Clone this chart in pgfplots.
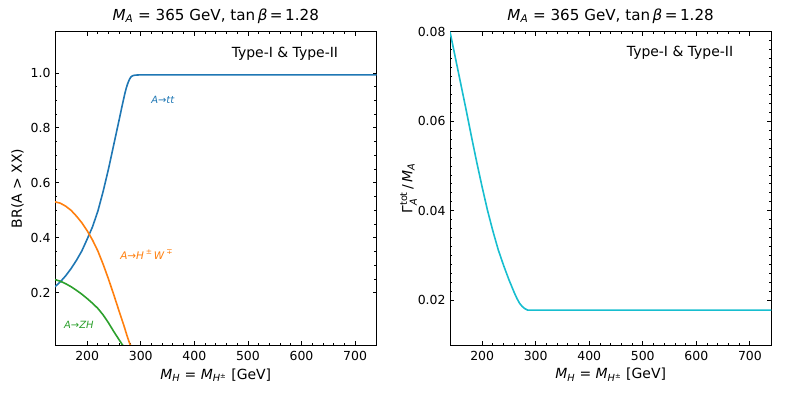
\documentclass[border=0pt]{standalone}
\usepackage{pgfplots}
\pgfplotsset{compat=1.18}
\usepackage{amsmath}
\usepackage{fontspec}
\setmainfont{DejaVu Sans}

\definecolor{tabblue}{HTML}{1F77B4}
\definecolor{taborange}{HTML}{FF7F0E}
\definecolor{tabgreen}{HTML}{2CA02C}
\definecolor{tabcyan}{HTML}{17BECF}

\newcommand{\MA}{\textit{M}\textsubscript{\textit{A}}}
\newcommand{\sups}[1]{\raisebox{0.85ex}{\fontsize{7.5}{8}\selectfont #1}}

\pgfplotsset{
  panel/.style={
    scale only axis, width=321.5bp, height=313.3bp, anchor=south west,
    xmin=140, xmax=740,
    xtick={200,300,400,500,600,700},
    xticklabels={200,300,400,500,600,700},
    minor x tick num=4,
    scaled y ticks=false,
    tick align=inside,
    major tick length=4bp, minor tick length=2.2bp,
    every tick/.style={black, line width=0.8bp},
    axis line style={line width=0.9bp},
    tick label style={font=\fontsize{12.5}{14}\selectfont},
    xticklabel style={yshift=-3bp},
    yticklabel style={xshift=-1bp},
    label style={font=\fontsize{14}{16}\selectfont},
    xlabel={\textit{M}\textsubscript{\textit{H}} = \textit{M}\textsubscript{\textit{H}\textsuperscript{±}} [GeV]},
    xlabel style={at={(axis description cs:0.5,0)}, anchor=base, yshift=-34bp},
    title={\MA{} = 365 GeV, tan\,\textit{β}\,=\,1.28},
    title style={font=\fontsize{15.2}{17}\selectfont, at={(axis description cs:0.5,1)}, anchor=base, yshift=5.7bp},
  },
  curve/.style={line width=1.6bp, line join=round},
}

\begin{document}
\begin{tikzpicture}
\path[use as bounding box] (0,0) rectangle (788bp,394bp);

% left panel: branching ratios
\begin{axis}[panel, at={(55bp,49bp)},
  ymin=0.01, ymax=1.15,
  ytick={0.2,0.4,0.6,0.8,1.0}, yticklabels={0.2,0.4,0.6,0.8,1.0},
  minor y tick num=3,
  ylabel={BR(A > XX)},
  ylabel style={at={(axis description cs:-0.1166,0.5)}, anchor=center},
]
\addplot[curve, tabblue] coordinates {
  (140,0.222) (150,0.240) (160,0.262) (170,0.288) (180,0.318) (190,0.352)
  (200,0.395) (210,0.440) (220,0.497) (230,0.570) (240,0.652) (250,0.742)
  (260,0.832) (265,0.878) (270,0.922) (273,0.945) (276,0.963) (279,0.977)
  (282,0.986) (285,0.990) (290,0.992) (300,0.993) (740,0.993)
};
\addplot[curve, taborange] coordinates {
  (140,0.531) (150,0.526) (160,0.515) (170,0.500) (180,0.479) (190,0.455)
  (200,0.426) (210,0.392) (220,0.352) (230,0.303) (240,0.249) (250,0.191)
  (260,0.131) (270,0.072) (275,0.040) (280,0.012) (284,0.0)
};
\addplot[curve, tabgreen] coordinates {
  (140,0.248) (150,0.242) (160,0.233) (170,0.222) (180,0.209) (190,0.195)
  (200,0.179) (210,0.162) (220,0.143) (230,0.119) (240,0.090) (250,0.058)
  (260,0.028) (265,0.013) (270,0.0)
};
\node[font=\fontsize{10}{12}\selectfont, text=tabblue] at (axis cs:341.5,0.903) {\textit{A}→\textit{tt}};
\node[font=\fontsize{10.5}{12}\selectfont, text=taborange] at (axis cs:310.6,0.339) {\textit{A}→\textit{H}\,\sups{±}\,\textit{W}\,\sups{∓}};
\node[font=\fontsize{10}{12}\selectfont, text=tabgreen] at (axis cs:184.5,0.083) {\textit{A}→\textit{ZH}};
\node[font=\fontsize{14}{16}\selectfont] at (axis cs:569,1.07) {Type-I \& Type-II};
\end{axis}

% right panel: total width over mass
\begin{axis}[panel, at={(450bp,49bp)}, width=321.3bp,
  ymin=0.01, ymax=0.08,
  ytick={0.02,0.04,0.06,0.08}, yticklabels={0.02,0.04,0.06,0.08},
  minor y tick num=9,
  ylabel={Γ$^{\text{tot}}_{\textit{A}}$\,/\,\MA},
  ylabel style={at={(axis description cs:-0.129,0.5)}, anchor=center},
]
\addplot[curve, tabcyan] coordinates {
  (140,0.0800) (150,0.0742) (160,0.0684) (170,0.0626) (180,0.0566) (190,0.0508)
  (200,0.0453) (210,0.0401) (220,0.0355) (230,0.0313) (240,0.0278) (250,0.0246)
  (260,0.0217) (265,0.0204) (270,0.0193) (275,0.0186) (280,0.0181) (285,0.0178)
  (290,0.0178) (740,0.0178)
};
\node[font=\fontsize{14}{16}\selectfont] at (axis cs:569.5,0.0753) {Type-I \& Type-II};
\end{axis}
\end{tikzpicture}
\end{document}
